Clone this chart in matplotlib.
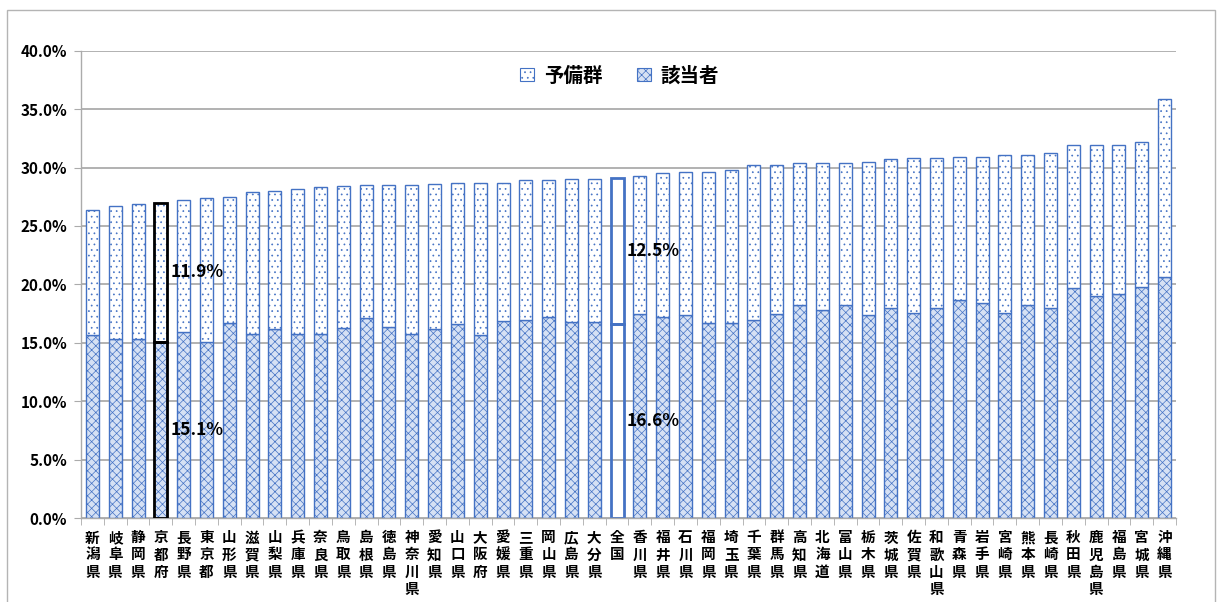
import matplotlib
matplotlib.use("Agg")
import matplotlib.pyplot as plt
from matplotlib.patches import Patch, Rectangle
from matplotlib.ticker import MultipleLocator, FuncFormatter
import numpy as np

plt.rcParams["font.family"] = ["Noto Sans CJK JP", "DejaVu Sans"]
plt.rcParams["hatch.linewidth"] = 0.5

# ── データ ──────────────────────────────────────
PREFS = [
    "新潟県", "岐阜県", "静岡県", "京都府", "長野県", "東京都", "山形県", "滋賀県",
    "山梨県", "兵庫県", "奈良県", "鳥取県", "島根県", "徳島県", "神奈川県", "愛知県",
    "山口県", "大阪府", "愛媛県", "三重県", "岡山県", "広島県", "大分県", "全国",
    "香川県", "福井県", "石川県", "福岡県", "埼玉県", "千葉県", "群馬県", "高知県",
    "北海道", "富山県", "栃木県", "茨城県", "佐賀県", "和歌山県", "青森県", "岩手県",
    "宮崎県", "熊本県", "長崎県", "秋田県", "鹿児島県", "福島県", "宮城県", "沖縄県",
]
# 該当者 (%)
GAITO = [
    15.7, 15.3, 15.3, 15.1, 15.9, 15.1, 16.7, 15.8,
    16.2, 15.8, 15.8, 16.3, 17.1, 16.4, 15.8, 16.2,
    16.6, 15.7, 16.9, 17.0, 17.2, 16.8, 16.8, 16.6,
    17.5, 17.2, 17.4, 16.7, 16.7, 17.0, 17.5, 18.2,
    17.8, 18.2, 17.4, 18.0, 17.6, 18.0, 18.7, 18.4,
    17.6, 18.2, 18.0, 19.7, 19.0, 19.2, 19.8, 20.6,
]
# 予備群 (%)
YOBI = [
    10.7, 11.4, 11.6, 11.9, 11.3, 12.3, 10.8, 12.1,
    11.8, 12.4, 12.5, 12.1, 11.4, 12.1, 12.7, 12.4,
    12.1, 13.0, 11.8, 11.9, 11.7, 12.2, 12.2, 12.5,
    11.8, 12.3, 12.2, 12.9, 13.1, 13.2, 12.7, 12.2,
    12.6, 12.2, 13.1, 12.7, 13.2, 12.8, 12.2, 12.5,
    13.5, 12.9, 13.2, 12.2, 12.9, 12.7, 12.4, 15.3,
]
LABELED = ["京都府", "全国"]

BLUE = "#4472C4"
GAITO_FILL = "#d6e1f4"
GRID = "#ababab"

x = np.arange(len(PREFS))

fig = plt.figure(figsize=(12.18, 6.02), dpi=100)
ax = fig.add_axes([0.0665, 0.139, 0.899, 0.777])

b1 = ax.bar(x, GAITO, width=0.57, color=GAITO_FILL, edgecolor=BLUE,
            hatch="xxxx", linewidth=1.0, zorder=2)
b2 = ax.bar(x, YOBI, bottom=GAITO, width=0.57, color="white", edgecolor=BLUE,
            hatch="...", linewidth=1.0, zorder=2)

# 京都府: 黒枠
k = PREFS.index("京都府")
ax.bar(k, GAITO[k], width=0.57, facecolor="none", edgecolor="black", linewidth=2, zorder=3)
ax.bar(k, YOBI[k], bottom=GAITO[k], width=0.57, facecolor="none", edgecolor="black",
       linewidth=2, zorder=3)

# 全国: 塗りなし・青枠
n = PREFS.index("全国")
for b in (b1[n], b2[n]):
    b.set_hatch(None)
    b.set_facecolor("none")
    b.set_linewidth(2)

# 数値ラベル
for name in LABELED:
    i = PREFS.index(name)
    ax.text(i + 1.6, GAITO[i] / 2, f"{GAITO[i]:.1f}%", ha="center", va="center",
            fontsize=12.5, fontweight="bold", zorder=4)
    ax.text(i + 1.6, GAITO[i] + YOBI[i] / 2, f"{YOBI[i]:.1f}%", ha="center", va="center",
            fontsize=12.5, fontweight="bold", zorder=4)

# 軸
ax.set_xlim(-0.5, len(PREFS) - 0.5)
ax.set_ylim(0, 40)
ax.yaxis.set_major_locator(MultipleLocator(5))
ax.yaxis.set_major_formatter(FuncFormatter(lambda v, p: f"{v:.1f}%"))
ax.yaxis.grid(True, color=GRID, linewidth=1.3, zorder=0)
ax.set_axisbelow(True)

ax.set_xticks(x)
ax.set_xticklabels(["\n".join(p) for p in PREFS], fontsize=10.5, fontweight="bold",
                   linespacing=1.08, va="top")
ax.set_xticks(np.arange(-0.5, len(PREFS)), minor=True)
ax.tick_params(axis="x", which="major", length=0, pad=8)
ax.tick_params(axis="x", which="minor", length=5, color=GRID)
ax.tick_params(axis="y", length=5, color=GRID, pad=5)
for lab in ax.get_yticklabels():
    lab.set_fontweight("bold")
    lab.set_fontsize(11)

for s in ("top", "right"):
    ax.spines[s].set_visible(False)
for s in ("left", "bottom"):
    ax.spines[s].set_color(GRID)
    ax.spines[s].set_linewidth(1.0)

# 凡例
handles = [
    Patch(facecolor="white", edgecolor=BLUE, hatch="...", linewidth=0.8, label="予備群"),
    Patch(facecolor=GAITO_FILL, edgecolor=BLUE, hatch="xxxx", linewidth=0.8, label="該当者"),
]
ax.legend(handles=handles, loc="center", bbox_to_anchor=(0.492, 0.946), ncol=2,
          frameon=False, prop={"size": 14, "weight": "bold"},
          handlelength=0.7, handleheight=0.7, handletextpad=0.5, columnspacing=1.8)

# 外枠
fig.patches.append(Rectangle((7 / 1218, -0.05), 1208 / 1218, 1.05 - 10 / 602,
                             transform=fig.transFigure, fill=False,
                             edgecolor="#b4b4b4", linewidth=1.0))

fig.savefig("out.png", dpi=100, facecolor="white")
